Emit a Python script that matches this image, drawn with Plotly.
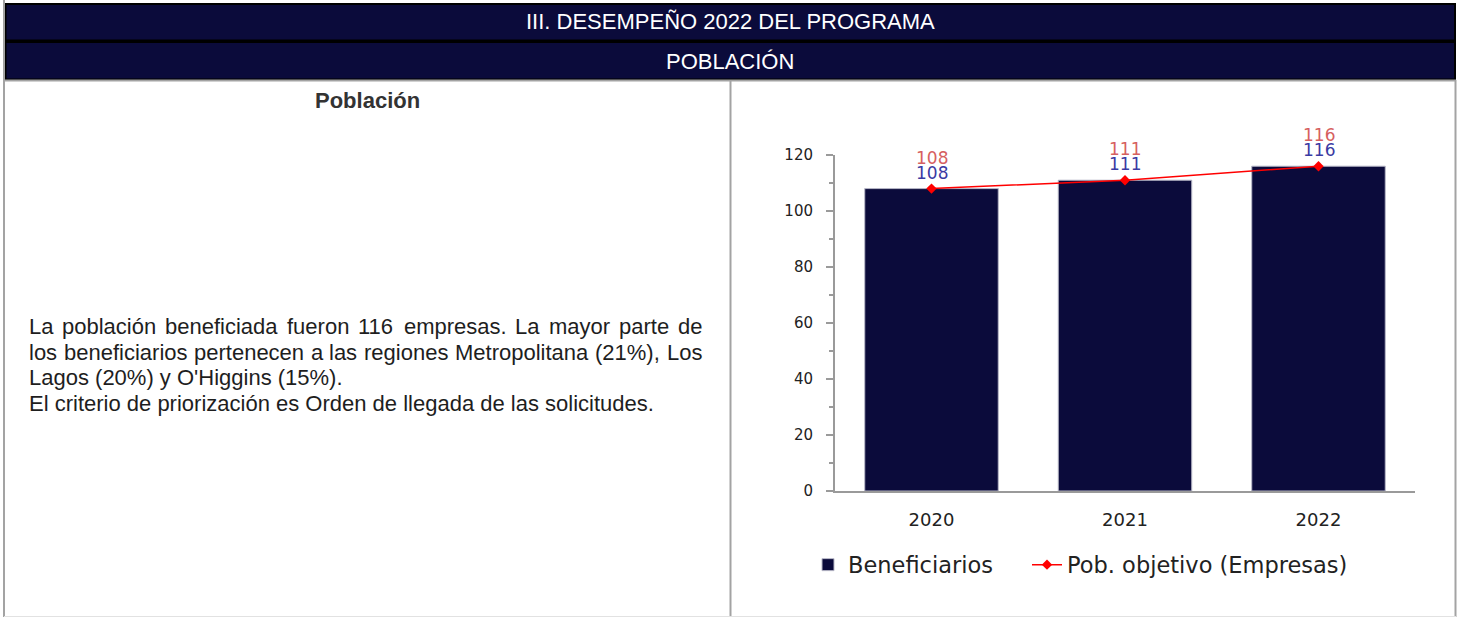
import plotly.graph_objects as go

# ---------------- data ----------------
years = ["2020", "2021", "2022"]
beneficiarios = [108, 111, 116]
pob_objetivo = [108, 111, 116]
y_tick_vals = [0, 20, 40, 60, 80, 100, 120]

header_1 = "III. DESEMPEÑO 2022 DEL PROGRAMA"
header_2 = "POBLACIÓN"
cell_title = "Población"
paragraph_lines = [
    "La población beneficiada fueron 116 empresas. La mayor parte de",
    "los beneficiarios pertenecen a las regiones Metropolitana (21%), Los",
    "Lagos (20%) y O'Higgins (15%).",
    "El criterio de priorización es Orden de llegada de las solicitudes.",
]
justified = [True, True, False, False]

# ---------------- helpers ----------------
W, H = 1459, 617


def px(x):
    return x / W


def py(y):
    return 1 - y / H


# Arial / Liberation Sans advance widths (1/1000 em)
ARIAL = {" ": 278, "%": 889, "'": 191, "(": 333, ")": 333, ",": 278, ".": 278,
         "E": 667, "H": 722, "I": 278, "L": 556, "M": 833, "O": 778, "G": 778,
         "a": 556, "b": 556, "c": 500, "d": 556, "e": 556, "f": 278, "g": 556, "h": 556,
         "i": 222, "j": 222, "l": 222, "m": 833, "n": 556, "o": 556, "p": 556, "r": 333,
         "s": 500, "t": 278, "u": 556, "v": 500, "y": 500, "z": 500, "ó": 556, "á": 556}


def text_w(s, size):
    return sum(ARIAL.get(c, 556) for c in s) * size / 1000.0


NAVY = "#0b0b3b"
GRAY = "#a3a3a3"
AX = "#9a9a9a"
TXT_FONT = "Liberation Sans, Arial"

fig = go.Figure()
fig.add_trace(go.Bar(
    x=years, y=beneficiarios, name="Beneficiarios",
    marker=dict(color=NAVY, line=dict(color="#b9b9c8", width=1)),
    width=0.69, legend="legend",
))
fig.add_trace(go.Scatter(
    x=years, y=pob_objetivo, name="Pob. objetivo (Empresas)",
    mode="lines+markers",
    line=dict(color="#ff0000", width=1.5),
    marker=dict(symbol="diamond", size=8, color="#ff0000"),
    legend="legend2",
))

annotations = []
for i, v in enumerate(pob_objetivo):
    annotations.append(dict(x=i, y=v, xref="x", yref="y", text=str(v), showarrow=False,
                            yshift=31, yanchor="middle",
                            font=dict(family="DejaVu Sans", size=17, color="#d66060")))
for i, v in enumerate(beneficiarios):
    annotations.append(dict(x=i, y=v, xref="x", yref="y", text=str(v), showarrow=False,
                            yshift=16, yanchor="middle",
                            font=dict(family="DejaVu Sans", size=17, color="#3a3aa3")))

# headers
annotations.append(dict(x=px(730), y=py(22), xref="paper", yref="paper", text=header_1,
                        showarrow=False, xanchor="center", yanchor="middle",
                        font=dict(family=TXT_FONT, size=22, color="white")))
annotations.append(dict(x=px(730), y=py(61), xref="paper", yref="paper", text=header_2,
                        showarrow=False, xanchor="center", yanchor="middle",
                        font=dict(family=TXT_FONT, size=22, color="white")))
annotations.append(dict(x=px(367), y=py(100), xref="paper", yref="paper", text="<b>" + cell_title + "</b>",
                        showarrow=False, xanchor="center", yanchor="middle",
                        font=dict(family=TXT_FONT, size=22, color="#333333")))

# paragraph (first two lines justified between x=30 and x=703)
FS = 22
LEFT, RIGHT = 27, 700
line_y = [326, 352, 377, 403]
for t, yy, just in zip(paragraph_lines, line_y, justified):
    if just:
        words = t.split(" ")
        natural = sum(text_w(w, FS) for w in words)
        gap = (RIGHT - LEFT - natural) / (len(words) - 1)
        cur = LEFT
        for w in words:
            annotations.append(dict(x=px(cur), y=py(yy), xref="paper", yref="paper", text=w,
                                    showarrow=False, xanchor="left", yanchor="middle",
                                    font=dict(family=TXT_FONT, size=FS, color="#1e1e1e")))
            cur += text_w(w, FS) + gap
    else:
        annotations.append(dict(x=px(LEFT), y=py(yy), xref="paper", yref="paper", text=t,
                                showarrow=False, xanchor="left", yanchor="middle",
                                font=dict(family=TXT_FONT, size=FS, color="#1e1e1e")))

shapes = [
    dict(type="rect", xref="paper", yref="paper", x0=px(4.5), x1=px(1456), y0=py(3), y1=py(80),
         fillcolor="#000000", line=dict(width=0), layer="below"),
    dict(type="rect", xref="paper", yref="paper", x0=px(6.5), x1=px(1454), y0=py(5), y1=py(39.5),
         fillcolor=NAVY, line=dict(width=0), layer="below"),
    dict(type="rect", xref="paper", yref="paper", x0=px(6.5), x1=px(1454), y0=py(43), y1=py(78.5),
         fillcolor=NAVY, line=dict(width=0), layer="below"),
    dict(type="line", xref="paper", yref="paper", x0=px(4), x1=px(4), y0=py(0), y1=py(617),
         line=dict(color=GRAY, width=2), layer="below"),
    dict(type="line", xref="paper", yref="paper", x0=px(4), x1=px(1456), y0=py(80.5), y1=py(80.5),
         line=dict(color=GRAY, width=2), layer="below"),
    dict(type="line", xref="paper", yref="paper", x0=px(730.5), x1=px(730.5), y0=py(81), y1=py(617),
         line=dict(color=GRAY, width=2), layer="below"),
    dict(type="line", xref="paper", yref="paper", x0=px(1455.5), x1=px(1455.5), y0=py(80), y1=py(617),
         line=dict(color=GRAY, width=2), layer="below"),
    dict(type="line", xref="paper", yref="paper", x0=px(4), x1=px(1456), y0=py(616.5), y1=py(616.5),
         line=dict(color="#e2e2e2", width=1), layer="below"),
]

LEG_FONT = dict(family="DejaVu Sans", size=22.5, color="#222222")
fig.update_layout(
    template="none",
    width=W, height=H,
    margin=dict(l=0, r=0, t=0, b=0, pad=0, autoexpand=False),
    paper_bgcolor="white", plot_bgcolor="white",
    showlegend=True,
    legend=dict(orientation="h", x=px(808), xanchor="left", y=py(565), yanchor="middle",
                font=LEG_FONT, itemwidth=30, bgcolor="rgba(0,0,0,0)", borderwidth=0),
    legend2=dict(orientation="h", x=px(1027), xanchor="left", y=py(565), yanchor="middle",
                 font=LEG_FONT, itemwidth=30, bgcolor="rgba(0,0,0,0)", borderwidth=0),
    xaxis=dict(type="category", domain=[px(834.75), px(1415.25)], range=[-0.5, 2.5],
               automargin=False, showline=True, linecolor=AX, linewidth=1.5,
               ticks="", showgrid=False, zeroline=False, ticklabelstandoff=12,
               tickfont=dict(family="DejaVu Sans", size=18, color="#222222")),
    yaxis=dict(domain=[py(491), py(155)], range=[0, 120], automargin=False,
               showline=True, linecolor=AX, linewidth=1.5,
               ticks="outside", ticklen=7, tickcolor=AX, tickwidth=1.5, tickvals=y_tick_vals,
               minor=dict(ticks="outside", ticklen=4, tickcolor=AX, tickwidth=1.5, dtick=10, tick0=0),
               showgrid=False, zeroline=False, ticklabelstandoff=10,
               tickfont=dict(family="DejaVu Sans", size=15, color="#222222")),
    annotations=annotations,
    shapes=shapes,
)

post = (
    "document.documentElement.style.cssText='margin:0;padding:0;overflow:hidden;';"
    "document.body.style.cssText='margin:0;padding:0;overflow:hidden;';"
)
fig.write_html("out.html", config={"displayModeBar": False}, post_script=post)
